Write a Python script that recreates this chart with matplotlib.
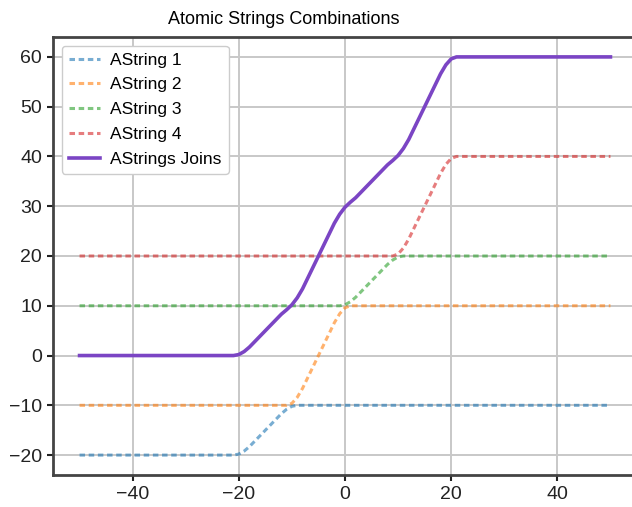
import matplotlib
matplotlib.use("Agg")
import matplotlib.pyplot as plt

plt.rcParams['font.family'] = ['Liberation Sans', 'DejaVu Sans']

# Data
x_s1 = [-50, -21, -20, -19, -18, -17, -16, -15, -14, -13, -12, -11, -10, -9, 50]
y_s1 = [-20, -20, -19.8, -19.2, -18.3, -17.2, -16.1, -15, -13.9, -12.8, -11.7, -10.8, -10.2, -10, -10]

x_s2 = [-50, -11, -10, -9, -8, -7, -6, -5, -4, -3, -2, -1, 0, 1, 50]
y_s2 = [-10, -10, -9.6, -8.4, -6.6, -4.4, -2.2, 0, 2.2, 4.4, 6.6, 8.4, 9.6, 10, 10]

x_s3 = [-50, -1, 0, 1, 2, 3, 4, 5, 6, 7, 8, 9, 10, 11, 50]
y_s3 = [10, 10, 10.2, 10.8, 11.7, 12.8, 13.9, 15, 16.1, 17.2, 18.3, 19.2, 19.8, 20, 20]

x_s4 = [-50, 9, 10, 11, 12, 13, 14, 15, 16, 17, 18, 19, 20, 21, 50]
y_s4 = [20, 20, 20.4, 21.6, 23.4, 25.6, 27.8, 30, 32.2, 34.4, 36.6, 38.4, 39.6, 40, 40]

x_join = [-50, -21, -20, -19, -18, -17, -16, -15, -14, -13, -12, -11, -10, -9, -8,
          -7, -6, -5, -4, -3, -2, -1, 0, 1, 2, 3, 4, 5, 6, 7, 8, 9, 10, 11, 12,
          13, 14, 15, 16, 17, 18, 19, 20, 21, 50]
y_join = [0, 0, 0.2, 0.8, 1.7, 2.8, 3.9, 5, 6.1, 7.2, 8.3, 9.2, 10.2, 11.6, 13.4,
          15.6, 17.8, 20, 22.2, 24.4, 26.6, 28.4, 29.8, 30.8, 31.7, 32.8, 33.9, 35, 36.1, 37.2, 38.3, 39.2, 40.2, 41.6, 43.4,
          45.6, 47.8, 50, 52.2, 54.4, 56.6, 58.4, 59.6, 60, 60]

labels = ['AString 1', 'AString 2', 'AString 3', 'AString 4', 'AStrings Joins']
colors = ['#1f77b4', '#ff7f0e', '#2ca02c', '#d62728', '#7b45c4']
title = 'Atomic Strings Combinations'

fig = plt.figure(figsize=(6.32, 5.07), dpi=100)
ax = fig.add_axes([53 / 632, 1 - 475 / 507, (637 - 53) / 632, (475 - 37) / 507])

series = [(x_s1, y_s1), (x_s2, y_s2), (x_s3, y_s3), (x_s4, y_s4)]
for (xs, ys), lab, c in zip(series, labels[:4], colors[:4]):
    ax.plot(xs, ys, color=c, lw=2.2, alpha=0.6, linestyle=(0, (1.8, 1.2)), label=lab)
ax.plot(x_join, y_join, color=colors[4], lw=2.6, label=labels[4])

ax.set_xlim(-55, 55)
ax.set_ylim(-24, 64)
ax.set_xticks([-40, -20, 0, 20, 40])
ax.set_yticks([-20, -10, 0, 10, 20, 30, 40, 50, 60])
ax.grid(True, color='#c8c8c8', lw=1.4)
ax.set_axisbelow(True)
for s in ax.spines.values():
    s.set_color('#444444')
    s.set_linewidth(2)
ax.tick_params(labelsize=14, colors='#222222', length=4, width=1.5, pad=4)

fig.text(284 / 632, 1 - 20 / 507, title, ha='center', va='center', fontsize=13)

ax.legend(loc='upper left', fontsize=12.5, labelspacing=0.55, handlelength=1.8,
          handletextpad=0.6, edgecolor='#cccccc', framealpha=1, borderaxespad=0.5)

fig.savefig('out.png', dpi=100)
